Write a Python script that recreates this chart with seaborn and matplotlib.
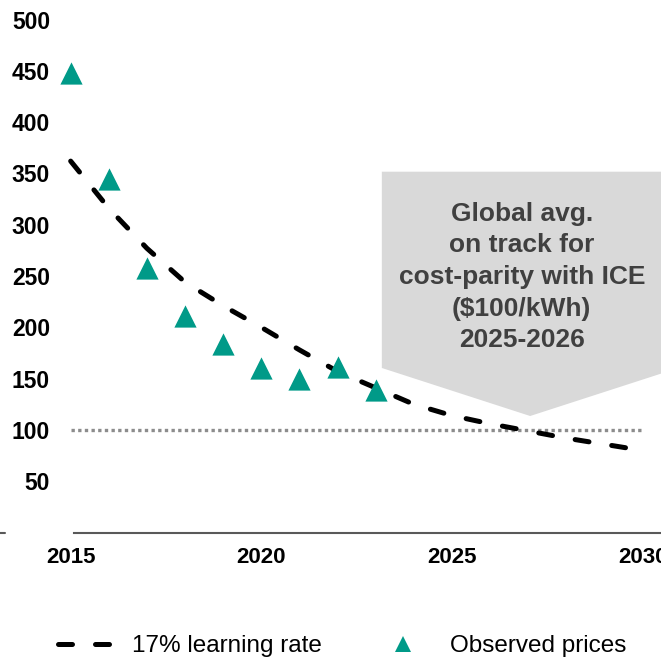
import matplotlib
matplotlib.use("Agg")
import matplotlib.pyplot as plt
from matplotlib.lines import Line2D
from matplotlib.patches import Polygon
import seaborn as sns
import pandas as pd

# learning-rate curve ($/kWh)
years = [2015, 2016, 2017, 2018, 2019, 2020, 2021, 2022,
         2023, 2024, 2025, 2026, 2027, 2028, 2029, 2030]
learning_curve = [362, 316, 277, 244, 221, 200, 178, 157,
                  141, 125, 114, 106, 99, 92, 86, 80]

# observed pack prices
obs_years = [2015, 2016, 2017, 2018, 2019, 2020, 2021, 2022, 2023]
obs_prices = [448, 345, 258, 211, 184, 160, 150, 161, 139]

parity_level = 100
parity_span = [2015, 2030]

callout_text = "Global avg.\non track for\ncost-parity with ICE\n($100/kWh)\n2025-2026"
x_ticks = [2015, 2020, 2025, 2030]
y_ticks = [50, 100, 150, 200, 250, 300, 350, 400, 450, 500]

TEAL = "#009A88"

sns.set_style("white")
plt.rcParams["font.family"] = ["Liberation Sans", "DejaVu Sans"]

fig = plt.figure(figsize=(6.61, 6.61), dpi=100)
ax = fig.add_axes([60 / 661, 0.1943, 620 / 661, 0.7917])

curve_df = pd.DataFrame({"year": years, "price": learning_curve})
obs_df = pd.DataFrame({"year": obs_years, "price": obs_prices})

# callout box with arrow tip
callout = Polygon([(2023.16, 351.7), (2030.94, 351.7), (2030.94, 160.4),
                   (2027.05, 113.6), (2023.16, 160.4)],
                  closed=True, facecolor="#d9d9d9", edgecolor="none", zorder=1)
ax.add_patch(callout)
ax.text(2026.83, 249, callout_text, ha="center", va="center",
        multialignment="center", fontsize=19, fontweight="bold",
        color="#404040", linespacing=1.4, zorder=2)

# dotted parity line at $100
ax.plot(parity_span, [parity_level, parity_level], color="#8c8c8c",
        lw=2.4, linestyle=(0, (1, 1)), dash_capstyle="butt", zorder=2)

sns.lineplot(data=curve_df, x="year", y="price", ax=ax, color="black",
             lw=3.6, zorder=3)
line = ax.lines[-1]
line.set_dashes((2.8, 4.6))
line.set_dash_capstyle("round")
line.set_dash_joinstyle("round")

sns.scatterplot(data=obs_df, x="year", y="price", ax=ax, marker="^",
                s=16 ** 2, color=TEAL, linewidth=0, zorder=4)

ax.set_xlim(2014.72, 2030.98)
ax.set_ylim(0, 510)
ax.set_xticks(x_ticks)
ax.set_yticks(y_ticks)
ax.set_xticklabels([str(t) for t in x_ticks], fontsize=16, fontweight="bold")
ax.set_yticklabels([str(t) for t in y_ticks], fontsize=16.5, fontweight="bold")
ax.tick_params(axis="y", length=0, pad=7.2, labelcolor="black")
ax.tick_params(axis="x", length=0, pad=10.5, labelcolor="black")
ax.set_xlabel("")
ax.set_ylabel("")

for side in ["top", "right", "left"]:
    ax.spines[side].set_visible(False)
ax.spines["bottom"].set_color("#595959")
ax.spines["bottom"].set_linewidth(1.5)
ax.spines["bottom"].set_bounds(2015.1, 2030.98)

# little stub of axis at far left
fig.add_artist(Line2D([0, 5 / 661], [0.1943, 0.1943], color="#595959", lw=1.5))

handles = [
    Line2D([], [], color="black", lw=3.6, dashes=(2.8, 4.6),
           dash_capstyle="round"),
    Line2D([], [], color=TEAL, marker="^", markersize=11, linestyle="none",
           markeredgewidth=0),
]
fig.legend(handles, ["17% learning rate", "Observed prices"], loc="center",
           bbox_to_anchor=(342 / 661, 1 - 646 / 661), ncol=2, frameon=False,
           fontsize=17.5, handlelength=2.25, handletextpad=0.8,
           columnspacing=2.2, borderpad=0, labelcolor="black")

fig.savefig("out.png", dpi=100)
